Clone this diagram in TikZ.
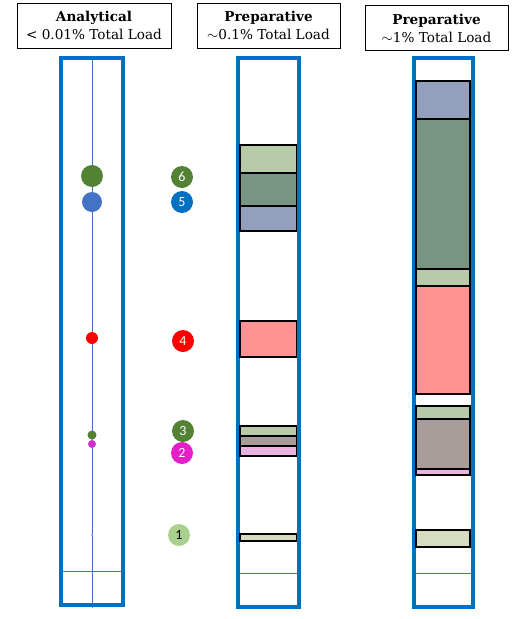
\documentclass[tikz,border=0pt]{standalone}
\usepackage{fontspec}
\setmainfont{DejaVu Serif}
\newfontfamily\numfont{Carlito}
\usepackage{tikz}
\usetikzlibrary{positioning}
\definecolor{colblue}{RGB}{0,112,192}
\definecolor{lineblue}{RGB}{68,114,196}
\definecolor{darkgreen}{RGB}{84,130,53}
\definecolor{dotblue}{RGB}{68,114,196}
\definecolor{dotmagenta}{RGB}{204,51,204}
\definecolor{numblue}{RGB}{0,112,192}
\definecolor{nummagenta}{RGB}{230,30,200}
\definecolor{numlight}{RGB}{169,208,142}
\definecolor{bandlight}{RGB}{183,203,169}
\definecolor{banddark}{RGB}{120,148,130}
\definecolor{bandslate}{RGB}{146,160,190}
\definecolor{bandpink}{RGB}{255,146,146}
\definecolor{bandtaupe}{RGB}{168,157,155}
\definecolor{bandlilac}{RGB}{233,178,226}
\definecolor{bandpale}{RGB}{214,220,192}
\tikzset{
  header/.style={rectangle, draw=black, thick, minimum height=45pt, align=center,
                 inner sep=1pt, font=\fontsize{13.6}{18}\selectfont},
  column/.style={draw=colblue, line width=4pt},
  guide/.style={draw=lineblue, line width=0.9pt},
  band/.style={draw=black, line width=1.1pt},
  peak/.style={circle, inner sep=0pt},
  numdot/.style={circle, minimum size=22pt, inner sep=0pt, text=white,
                 font=\numfont\fontsize{14}{14}\selectfont},
}

\begin{document}
\begin{tikzpicture}[x=1pt, y=-1pt]
\useasboundingbox (0,0) rectangle (523,619);

% headers
\node[header, minimum width=154pt] (hanal) at (94,25.5) {\textbf{Analytical}\\< 0.01\% Total Load};
\node[header, minimum width=143pt] (hprep1) at (268.5,25.5) {\textbf{Preparative}\\$\sim$0.1\% Total Load};
\node[header, minimum width=143pt] (hprep2) at (436.5,28) {\textbf{Preparative}\\$\sim$1\% Total Load};

% guide lines
\draw[guide] (92,58) -- (92,608);
\draw[guide] (61,571) -- (123,571);
\draw[guide] (239,573) -- (297,573);
\draw[guide] (415,573) -- (471,573);

% columns
\draw[column] (61,58) rectangle (123,605);
\draw[column] (237.5,58) rectangle (299,607);
\draw[column] (413.5,58) rectangle (472.5,607);

% column 2 bands (~0.1%)
\foreach \top/\bot/\col in {145/173/bandlight, 173/206/banddark, 206/231/bandslate,
                            321/357/bandpink, 426/436/bandlight, 436/446/bandtaupe,
                            446/456/bandlilac, 534/541/bandpale}
  \draw[band, fill=\col] (240,\top) rectangle (296.5,\bot);

% column 3 bands (~1%)
\foreach \top/\bot/\col in {81/119/bandslate, 119/269/banddark, 269/286/bandlight,
                            286/394/bandpink, 406/419/bandlight, 419/469/bandtaupe,
                            469/475/bandlilac, 530/547/bandpale}
  \draw[band, fill=\col] (416,\top) rectangle (470,\bot);

% analytical column peaks
\node[peak, fill=darkgreen, minimum size=22pt] (p6) at (92,176) {};
\node[peak, fill=dotblue, minimum size=20pt] (p5) at (92,202) {};
\node[peak, fill=red, minimum size=12pt] (p4) at (92,338) {};
\node[peak, fill=darkgreen, minimum size=9pt] (p3) at (92,435) {};
\node[peak, fill=dotmagenta, minimum size=8pt] (p2) at (92,444) {};
\node[peak, fill=numlight!60!gray, minimum size=2pt] (p1) at (92,535) {};

% peak numbers
\node[numdot, fill=darkgreen] (n6) at (182,177) {6};
\node[numdot, fill=numblue] (n5) at (182,202) {5};
\node[numdot, fill=red] (n4) at (183,341) {4};
\node[numdot, fill=darkgreen] (n3) at (183,431) {3};
\node[numdot, fill=nummagenta] (n2) at (182,453) {2};
\node[numdot, fill=numlight, text=black] (n1) at (179,535) {1};
\end{tikzpicture}
\end{document}
